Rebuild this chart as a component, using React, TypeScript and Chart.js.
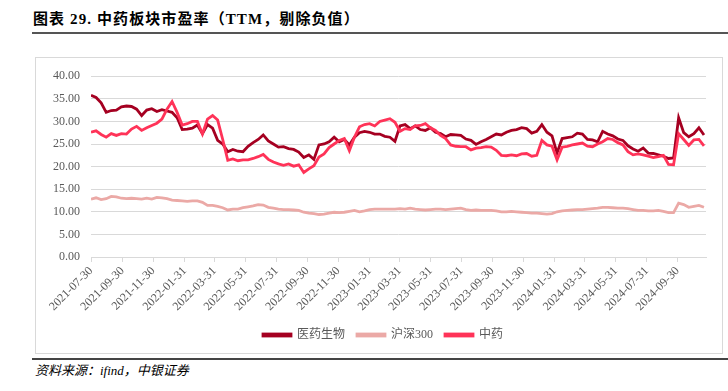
import React, { useEffect, useRef } from 'react';
import { Chart, registerables } from 'chart.js';

Chart.register(...registerables);

// Sample spacing (calendar days from 2021-07-30)
const START_DATE = '2021-07-30';
const STEP_DAYS = 10;
const X_MAX_DAYS = 1214;

const tickLabels = [
  '2021-07-30', '2021-09-30', '2021-11-30', '2022-01-31', '2022-03-31',
  '2022-05-31', '2022-07-31', '2022-09-30', '2022-11-30', '2023-01-31',
  '2023-03-31', '2023-05-31', '2023-07-31', '2023-09-30', '2023-11-30',
  '2024-01-31', '2024-03-31', '2024-05-31', '2024-07-31', '2024-09-30',
];

const seriesNames = ['医药生物', '沪深300', '中药'];

const yiyaoShengwu = [
  35.8, 35.3, 34.1, 32.0, 32.4, 32.5, 33.2, 33.4, 33.3, 32.7,
  31.3, 32.5, 32.8, 32.2, 32.6, 32.3, 32.0, 30.8, 28.2, 28.3,
  28.5, 29.2, 27.3, 29.3, 28.5, 25.8, 25.0, 23.3, 23.8, 23.4,
  23.3, 24.5, 25.3, 26.0, 27.0, 25.7, 25.0, 24.3, 24.4, 24.0,
  23.8, 23.2, 22.0, 22.6, 21.6, 24.8, 25.0, 25.5, 26.5, 25.5,
  26.0, 24.8, 26.5, 27.5, 27.8, 27.6, 27.2, 27.2, 26.7, 26.5,
  25.6, 29.0, 29.3, 28.4, 29.0, 28.2, 28.0, 28.6, 27.6, 27.3,
  26.6, 27.1, 27.0, 26.9, 26.1, 25.8, 24.9, 25.5, 26.0, 26.6,
  27.2, 27.0, 27.6, 28.0, 28.2, 28.6, 28.4, 27.4, 27.8, 29.3,
  27.6, 26.8, 23.0, 26.2, 26.4, 26.6, 27.4, 27.2, 26.0, 25.9,
  25.5, 27.8, 27.2, 26.8, 26.1, 25.8, 24.6, 23.9, 23.4, 24.1,
  23.0, 22.9, 22.6, 22.3, 21.8, 21.9, 30.8, 27.5, 26.6, 27.3,
  28.6, 27.0,
];

const hushen300 = [
  12.8, 13.1, 12.7, 12.9, 13.4, 13.3, 13.0, 12.9, 13.0, 12.9,
  12.8, 13.0, 12.8, 13.2, 13.1, 12.9, 12.6, 12.5, 12.4, 12.3,
  12.4, 12.4, 12.1, 11.4, 11.4, 11.2, 10.9, 10.4, 10.6, 10.6,
  10.9, 11.1, 11.3, 11.6, 11.5, 11.0, 10.8, 10.6, 10.5, 10.5,
  10.4, 10.3, 9.9, 9.7, 9.6, 9.4, 9.5, 9.7, 9.9, 9.8,
  9.9, 10.1, 10.3, 10.0, 10.2, 10.5, 10.6, 10.6, 10.6, 10.6,
  10.6, 10.7, 10.6, 10.8, 10.6, 10.5, 10.4, 10.5, 10.6, 10.6,
  10.5, 10.6, 10.7, 10.8, 10.5, 10.3, 10.4, 10.3, 10.3, 10.3,
  10.2, 10.0, 10.0, 10.1, 10.0, 9.9, 9.8, 9.7, 9.7, 9.6,
  9.5, 9.6, 10.0, 10.2, 10.3, 10.4, 10.5, 10.5, 10.6, 10.7,
  10.8, 11.0, 11.0, 10.9, 10.8, 10.8, 10.7, 10.5, 10.3, 10.3,
  10.2, 10.2, 10.3, 10.1, 9.8, 9.8, 11.9, 11.6, 11.0, 11.2,
  11.4, 11.0,
];

const zhongyao = [
  27.6, 27.9, 27.1, 26.5, 27.3, 26.9, 27.3, 27.2, 28.3, 28.9,
  28.0, 28.6, 29.1, 29.6, 30.5, 32.7, 34.4, 32.0, 29.2, 29.5,
  30.0, 30.0, 27.2, 30.5, 31.3, 30.3, 26.0, 21.4, 21.7, 21.3,
  21.5, 21.5, 21.8, 22.2, 22.7, 21.6, 21.0, 20.6, 20.3, 20.6,
  20.1, 20.4, 18.7, 19.5, 20.2, 22.1, 22.8, 24.2, 25.0, 25.8,
  26.2, 23.5, 26.5, 28.8, 29.3, 29.5, 29.0, 30.0, 30.3, 30.6,
  29.8, 27.8, 28.4, 28.2, 29.0, 29.1, 29.5, 28.6, 28.0, 26.9,
  26.2, 24.8, 24.5, 24.4, 24.4, 23.7, 24.1, 24.2, 24.4, 24.3,
  23.6, 22.5, 22.4, 22.6, 22.4, 22.8, 22.9, 22.3, 22.5, 25.8,
  24.8, 24.5, 21.5, 24.3, 24.5, 24.8, 25.0, 25.2, 24.5, 24.4,
  25.0, 25.5, 26.2, 26.0, 25.3, 24.8, 23.3, 22.6, 22.8, 22.6,
  22.3, 22.0, 22.2, 22.5, 20.5, 20.4, 27.3, 26.0, 24.7, 25.9,
  26.0, 24.6,
];

const Y_MIN = 0;
const Y_MAX = 40;
const Y_STEP = 5;

const COLORS = ['#A50021', '#EBA9A6', '#FF3358'];
const FONT_FAMILY = "'Liberation Serif', 'Noto Sans CJK SC', serif";

function dayOffset(s: string): number {
  const [y, m, d] = s.split('-').map(Number);
  const [y0, m0, d0] = START_DATE.split('-').map(Number);
  return Math.round((Date.UTC(y, m - 1, d) - Date.UTC(y0, m0 - 1, d0)) / 86400000);
}

const tickDays = tickLabels.map(dayOffset);
const labelByDay: Record<number, string> = {};
tickLabels.forEach((l, i) => { labelByDay[tickDays[i]] = l; });

function toPoints(values: number[]) {
  return values.map((v, i) => ({ x: i * STEP_DAYS, y: v }));
}

// Shift the legend row a little to the right, as in the reference
const legendShift = {
  id: 'legendShift',
  afterLayout(chart: any) {
    const l = chart.legend;
    if (l) {
      l.left += 12;
      l.right += 12;
    }
  },
};

export default function App() {
  const canvasRef = useRef<HTMLCanvasElement | null>(null);

  useEffect(() => {
    if (!canvasRef.current) return;
    const seriesValues = [yiyaoShengwu, hushen300, zhongyao];
    const drawOrder = [2, 3, 1];
    const chart = new Chart(canvasRef.current, {
      type: 'line',
      data: {
        datasets: seriesNames.map((name, i) => ({
          label: name,
          data: toPoints(seriesValues[i]),
          borderColor: COLORS[i],
          backgroundColor: COLORS[i],
          borderWidth: 2.8,
          pointRadius: 0,
          tension: 0,
          order: drawOrder[i],
        })),
      },
      plugins: [legendShift],
      options: {
        responsive: false,
        animation: false,
        events: [],
        layout: { padding: { left: 0, right: 16, top: 13, bottom: 2 } },
        scales: {
          x: {
            type: 'linear',
            bounds: 'data',
            min: 0,
            max: X_MAX_DAYS,
            afterBuildTicks: (scale: any) => {
              scale.ticks = tickDays.map((v) => ({ value: v }));
            },
            afterFit: (scale: any) => { scale.height = 60; },
            grid: {
              display: true,
              drawOnChartArea: false,
              drawTicks: true,
              tickLength: 5,
              color: '#D9D9D9',
            },
            border: { display: true, color: '#D9D9D9', width: 1 },
            ticks: {
              autoSkip: false,
              maxRotation: 45,
              minRotation: 45,
              padding: 2,
              color: '#595959',
              font: { family: FONT_FAMILY, size: 12 },
              callback: (v: any) => labelByDay[Number(v)] ?? '',
            },
          },
          y: {
            min: Y_MIN,
            max: Y_MAX,
            afterFit: (scale: any) => { scale.width = 55; },
            grid: { color: '#D9D9D9', drawTicks: false, lineWidth: 1 },
            border: { display: false },
            ticks: {
              stepSize: Y_STEP,
              padding: 11,
              color: '#595959',
              font: { family: FONT_FAMILY, size: 12 },
              callback: (v: any) => Number(v).toFixed(2),
            },
          },
        },
        plugins: {
          tooltip: { enabled: false },
          legend: {
            display: true,
            position: 'bottom',
            labels: {
              boxWidth: 28,
              boxHeight: 2,
              padding: 12,
              color: '#595959',
              font: { family: FONT_FAMILY, size: 12 },
              sort: (a: any, b: any) => a.datasetIndex - b.datasetIndex,
            },
          },
        },
      },
    } as any);
    return () => chart.destroy();
  }, []);

  return (
    <div style={{ position: 'absolute', left: 0, top: 0, width: 728, height: 391, background: '#fff', overflow: 'hidden' }}>
      <div
        style={{
          position: 'absolute', left: 33, top: 10, whiteSpace: 'nowrap',
          fontFamily: FONT_FAMILY, fontWeight: 'bold', fontSize: 15, lineHeight: '18px',
          letterSpacing: '1.1px', color: '#000',
        }}
      >
        图表 29. 中药板块市盈率（TTM，剔除负值）
      </div>
      <div style={{ position: 'absolute', left: 32, top: 32, width: 696, height: 2, background: '#555' }} />
      <div
        style={{
          position: 'absolute', left: 35, top: 57, width: 686, height: 295,
          border: '1px solid #D9D9D9',
        }}
      >
        <canvas ref={canvasRef} width={686} height={295} style={{ display: 'block' }} />
      </div>
      <div style={{ position: 'absolute', left: 32, top: 358, width: 696, height: 2, background: '#444' }} />
      <div
        style={{
          position: 'absolute', left: 35, top: 362, whiteSpace: 'nowrap',
          fontFamily: FONT_FAMILY, fontStyle: 'italic', fontSize: 13, lineHeight: '18px', color: '#000',
        }}
      >
        资料来源：ifind，中银证券
      </div>
    </div>
  );
}
